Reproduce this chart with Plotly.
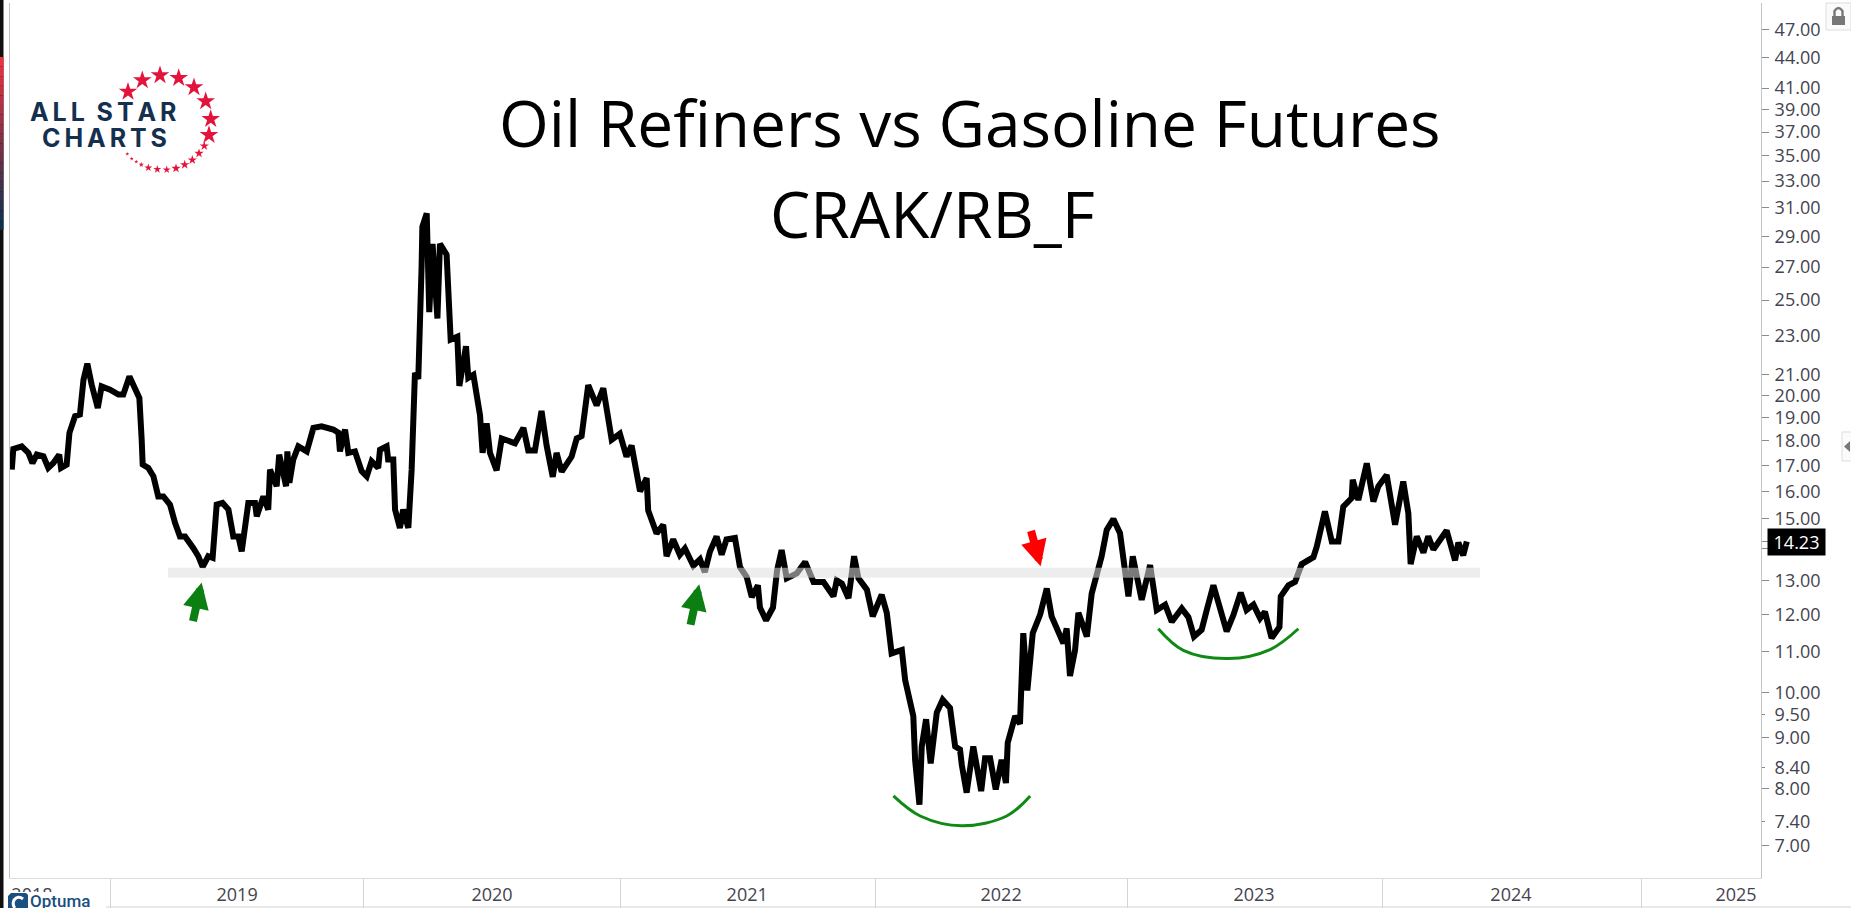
import math
import plotly.graph_objects as go

# ---------- series: CRAK/RB_F ratio (decimal year, ratio) ----------
years = [
 2018.615,2018.621,2018.654,2018.680,2018.696,2018.713,2018.739,2018.758,2018.778,2018.801,2018.808,2018.830,
 2018.841,2018.863,2018.882,2018.896,2018.911,2018.928,2018.952,2018.967,2019.000,2019.033,2019.052,2019.076,
 2019.091,2019.115,2019.124,2019.128,2019.150,2019.170,2019.189,2019.209,2019.235,2019.255,2019.274,2019.294,
 2019.326,2019.346,2019.363,2019.385,2019.402,2019.418,2019.441,2019.464,2019.483,2019.503,2019.516,2019.542,
 2019.568,2019.575,2019.601,2019.620,2019.627,2019.653,2019.663,2019.690,2019.695,2019.703,2019.718,2019.738,
 2019.771,2019.797,2019.829,2019.875,2019.895,2019.901,2019.921,2019.934,2019.960,2019.986,2020.006,2020.025,
 2020.051,2020.058,2020.084,2020.090,2020.110,2020.117,2020.136,2020.149,2020.169,2020.182,2020.195,2020.208,
 2020.221,2020.224,2020.241,2020.251,2020.264,2020.283,2020.293,2020.319,2020.335,2020.361,2020.369,2020.395,
 2020.404,2020.424,2020.450,2020.460,2020.476,2020.489,2020.515,2020.535,2020.587,2020.620,2020.639,2020.665,
 2020.691,2020.711,2020.735,2020.750,2020.770,2020.809,2020.829,2020.848,2020.874,2020.907,2020.933,2020.966,
 2020.998,2021.024,2021.044,2021.077,2021.103,2021.109,2021.142,2021.168,2021.181,2021.207,2021.233,2021.253,
 2021.286,2021.312,2021.331,2021.351,2021.377,2021.397,2021.416,2021.449,2021.469,2021.495,2021.515,2021.539,
 2021.547,2021.571,2021.598,2021.614,2021.632,2021.652,2021.691,2021.724,2021.757,2021.796,2021.835,2021.848,
 2021.868,2021.894,2021.916,2021.933,2021.966,2021.989,2022.024,2022.044,2022.063,2022.103,2022.116,2022.148,
 2022.155,2022.172,2022.181,2022.198,2022.216,2022.240,2022.263,2022.292,2022.312,2022.331,2022.338,2022.357,
 2022.383,2022.414,2022.429,2022.449,2022.471,2022.494,2022.511,2022.518,2022.547,2022.566,2022.579,2022.595,
 2022.616,2022.645,2022.671,2022.690,2022.736,2022.749,2022.762,2022.782,2022.795,2022.828,2022.847,2022.886,
 2022.906,2022.932,2022.958,2022.991,2023.008,2023.043,2023.076,2023.102,2023.135,2023.161,2023.200,2023.226,
 2023.248,2023.278,2023.298,2023.324,2023.344,2023.376,2023.402,2023.431,2023.454,2023.481,2023.507,2023.526,
 2023.552,2023.583,2023.588,2023.618,2023.644,2023.670,2023.716,2023.729,2023.761,2023.788,2023.814,2023.833,
 2023.866,2023.870,2023.892,2023.925,2023.951,2023.970,2024.003,2024.036,2024.068,2024.088,2024.097,2024.121,
 2024.147,2024.166,2024.186,2024.238,2024.271,2024.284,2024.303,2024.317]
ratio = [
 16.83,17.66,17.77,17.50,17.09,17.43,17.36,16.90,17.09,17.43,16.90,17.03,
 18.34,19.07,19.14,20.76,21.55,20.52,19.43,20.44,20.28,20.05,20.05,20.92,
 20.52,19.89,18.05,17.03,16.90,16.57,15.81,15.81,15.51,14.86,14.40,14.40,
 14.02,13.75,13.41,13.75,13.70,15.51,15.57,15.33,14.40,14.40,13.91,15.57,
 15.57,15.09,15.81,15.33,16.83,16.19,17.43,16.19,17.56,16.32,17.23,17.77,
 17.56,18.55,18.62,18.48,18.34,17.56,18.48,17.50,17.56,16.77,16.57,17.16,
 16.90,17.63,17.77,17.23,17.23,15.33,14.69,15.33,14.69,16.83,21.09,20.80,
 27.03,29.67,30.60,24.30,28.50,23.95,28.50,27.80,22.80,22.95,20.46,22.45,
 20.85,21.00,19.10,17.50,18.75,17.50,16.80,18.10,17.90,18.55,17.60,17.60,
 19.30,17.80,16.55,17.50,16.75,17.35,18.10,18.20,20.50,19.55,20.35,18.05,
 18.30,17.35,17.80,16.00,16.50,15.30,14.50,14.80,13.75,14.30,13.80,14.00,
 13.45,13.65,13.25,13.90,14.40,13.80,14.30,14.35,13.40,13.10,12.50,12.85,
 12.20,11.84,12.20,13.30,13.95,13.06,13.21,13.57,12.95,12.95,12.52,13.00,
 12.90,12.47,13.75,13.06,12.72,11.95,12.57,12.05,10.96,11.05,10.30,9.47,
 8.55,7.70,8.82,9.40,8.48,9.55,9.84,9.65,8.82,8.76,8.45,7.92,
 8.82,7.95,8.58,8.58,7.98,8.55,8.10,8.90,9.47,9.30,11.49,10.05,
 11.49,12.00,12.75,11.95,11.22,11.62,10.40,11.05,12.05,11.40,12.60,13.75,
 14.62,15.00,14.51,12.52,13.75,12.42,13.47,12.13,12.28,11.80,12.17,11.93,
 11.40,11.58,12.13,12.85,12.33,11.54,11.98,12.63,12.13,12.28,11.90,12.08,
 11.36,11.66,12.52,12.85,12.95,13.50,13.72,14.06,15.27,14.23,14.23,15.44,
 15.75,16.44,15.68,17.08,15.62,16.18,16.62,14.80,16.37,15.20,13.50,14.40,
 13.87,14.40,13.97,14.60,13.62,14.20,13.78,14.23]
last_value = 14.23

# ---------- support level and annotation curves ----------
support_x = [2019.227, 2024.369]
support_y = [13.23, 13.23]
arc1_x = [2022.070,2022.175,2022.338,2022.514,2022.606]
arc1_y = [7.86,7.50,7.33,7.50,7.86]
arc2_x = [2023.108,2023.206,2023.383,2023.546,2023.657]
arc2_y = [11.61,11.04,10.83,11.06,11.61]
# (tip year, tip value, tail dx, tail dy, colour)
arrows = [(2019.359,12.93,-9,40,"#0c7f12"),(2021.309,12.88,-9,42,"#0c7f12"),(2022.647,13.43,-10,-37,"#ff0000")]

# ---------- axes ----------
y_ticks = [47,44,41,39,37,35,33,31,29,27,25,23,21,20,19,18,17,16,15,14,13,12,11,10,9.5,9,8.4,8,7.4,7]
short_ticks = [9.5,8.4,7.4]
year_labels = ["2018","2019","2020","2021","2022","2023","2024","2025"]
year_label_pos = [2018.694,2019.498,2020.497,2021.497,2022.492,2023.483,2024.49,2025.372]
year_starts = [2019.0,2019.994,2020.999,2021.998,2022.986,2023.985,2025.0]

W, H = 1851, 908
L, R, T, B = 10, 1761, 3, 878
def px(x): return (x - L) / (R - L)
def py(y): return (B - y) / (B - T)

TXT = "#45434f"
FONT = "Open Sans"

# logo star layout (decoration): x, y, size in page pixels
star_x = [128,142.3,160,178.7,194,205.7,210.7,209,204.3,199,192.3,184.7,176,166.7,157.3,148.3,141.3,136.3,131.7,127.3]
star_y = [91.7,80.3,75.3,78,87.3,101.3,119,135,146,153.3,160,164.7,168.3,169.7,169.3,167.7,164.7,161.7,158.7,154]
star_s = [14,14,14,14,14,14,14,14,7,7,7,7,7,6,6,6,4,3,3,3]

fig = go.Figure()
fig.add_trace(go.Scatter(x=years, y=ratio, mode="lines", line=dict(color="#000000", width=6, simplify=False), hoverinfo="skip"))
fig.add_trace(go.Scatter(x=support_x, y=support_y, mode="lines", line=dict(color="rgba(222,222,222,0.55)", width=10), hoverinfo="skip"))
for ax_, ay_ in ((arc1_x, arc1_y), (arc2_x, arc2_y)):
    fig.add_trace(go.Scatter(x=ax_, y=ay_, mode="lines", line=dict(color="#0f8a14", width=3, shape="spline"), hoverinfo="skip"))
fig.add_trace(go.Scatter(x=star_x, y=star_y, xaxis="x2", yaxis="y2", mode="markers",
                         marker=dict(symbol="star", color="#e3143c", size=star_s, opacity=1, line=dict(width=0)), hoverinfo="skip"))

anns = []
for x_, y_, dx, dy, c in arrows:
    anns.append(dict(x=x_, y=math.log10(y_), xref="x", yref="y", ax=dx, ay=dy, axref="pixel", ayref="pixel",
                     text="", showarrow=True, arrowhead=2, arrowsize=0.65, arrowwidth=8, arrowcolor=c, standoff=0))
anns.append(dict(x=px(970), y=py(122), xref="paper", yref="paper", text="Oil Refiners vs Gasoline Futures", showarrow=False,
                 font=dict(family=FONT, size=64, color="#000000"), xanchor="center", yanchor="middle"))
anns.append(dict(x=px(932), y=py(214), xref="paper", yref="paper", text="CRAK/RB_F", showarrow=False,
                 font=dict(family=FONT, size=64, color="#000000"), xanchor="center", yanchor="middle"))
anns.append(dict(x=px(1796.5), y=math.log10(last_value), xref="paper", yref="y", text=f"{last_value:.2f}", showarrow=False,
                 width=57, height=26, bgcolor="#000000", font=dict(family=FONT, size=18, color="#ffffff"),
                 xanchor="center", yanchor="middle", borderpad=0))
hs = "\u200a\u200a"
anns.append(dict(x=px(103), y=py(112), xref="paper", yref="paper", text=hs.join("ALL STAR").replace(" ", "\u2009"), showarrow=False,
                 font=dict(family="Inter", size=25, color="#15304f", weight="bold"), xanchor="center", yanchor="middle"))
anns.append(dict(x=px(104), y=py(138), xref="paper", yref="paper", text=hs.join("CHARTS"), showarrow=False,
                 font=dict(family="Inter", size=25, color="#15304f", weight="bold"), xanchor="center", yanchor="middle"))
anns.append(dict(x=px(60), y=py(901), xref="paper", yref="paper", text="Optuma", showarrow=False,
                 font=dict(family="Roboto", size=17, color="#1b4f7f", weight=500), xanchor="center", yanchor="middle"))

def rect(x0, y0, x1, y1, fill, line=None, layer="above"):
    return dict(type="rect", xref="paper", yref="paper", x0=px(x0), x1=px(x1), y0=py(y0), y1=py(y1),
                fillcolor=fill, line=dict(width=1 if line else 0, color=line or fill), layer=layer)

shapes = [rect(0, 0, 3.5, 908, "#101010")]
top, bot = (240, 48, 64), (10, 50, 80)
for i in range(18):
    t = i / 17
    c = "rgb(%d,%d,%d)" % tuple(round(a + (b - a) * t) for a, b in zip(top, bot))
    shapes.append(rect(0, 57 + i * 9.6, 3.5, 57 + (i + 1) * 9.6, c))
shapes.append(rect(106, 906.5, 1851, 907.5, "#d4d4d4"))
shapes.append(rect(10, 892, 106, 908, "#ffffff"))
shapes.append(dict(type="path", xref="paper", yref="paper", layer="above", fillcolor="#1b4f7f", line=dict(width=0),
                   path=f"M {px(11)} {py(893)} L {px(26)} {py(893)} L {px(28)} {py(895)} L {px(28)} {py(908)} L {px(8)} {py(908)} L {px(8)} {py(896)} Z"))
shapes.append(dict(type="path", xref="paper", yref="paper", layer="above", line=dict(color="#ffffff", width=3),
                   path=f"M {px(23)} {py(899)} Q {px(18)} {py(895)} {px(14)} {py(900)} Q {px(12)} {py(905)} {px(15)} {py(908)}"))
shapes.append(rect(1826, 3, 1851, 30, "#fbfbfb", "#dddddd"))
shapes.append(rect(1832, 16, 1845, 25, "#777777"))
shapes.append(dict(type="path", xref="paper", yref="paper", layer="above", line=dict(color="#777777", width=2.4),
                   path=f"M {px(1834.5)} {py(16)} L {px(1834.5)} {py(11)} Q {px(1838.5)} {py(5)} {px(1842.5)} {py(11)} L {px(1842.5)} {py(16)}"))
shapes.append(rect(1842, 432, 1852, 461, "#fbfbfb", "#dddddd"))
shapes.append(dict(type="path", xref="paper", yref="paper", layer="above", fillcolor="#777777", line=dict(width=0),
                   path=f"M {px(1844)} {py(446.5)} L {px(1850)} {py(441)} L {px(1850)} {py(452)} Z"))

fig.update_layout(
    width=W, height=H, autosize=False, paper_bgcolor="#ffffff", plot_bgcolor="#ffffff", showlegend=False,
    margin=dict(l=L, r=W - R, t=T, b=H - B, pad=0), font=dict(family=FONT, size=18, color=TXT),
    annotations=anns, shapes=shapes,
    xaxis=dict(type="linear", range=[2018.608, 2025.470], tickmode="array", tickvals=year_label_pos, ticktext=year_labels,
               ticks="", showgrid=False, zeroline=False, showline=True, linecolor="#dcdcdc", linewidth=1,
               tickfont=dict(family=FONT, size=18, color=TXT),
               minor=dict(tickmode="array", tickvals=year_starts, ticks="outside", ticklen=29, tickcolor="#d4d4d4", tickwidth=1, showgrid=False)),
    yaxis=dict(type="log", side="right", range=[math.log10(6.49), math.log10(50.0)], tickmode="array",
               tickvals=y_ticks + [last_value], ticktext=[f"{v:.2f}" for v in y_ticks] + [""],
               ticks="outside", ticklen=3, tickcolor="#8a8a8a", tickwidth=1, ticklabelstandoff=6,
               showgrid=False, zeroline=False, showline=True, linecolor="#c4c4c4", linewidth=1, mirror=True,
               tickfont=dict(family=FONT, size=18, color=TXT),
               minor=dict(tickmode="array", tickvals=[v for v in y_ticks if v not in short_ticks] + [last_value],
                          ticks="outside", ticklen=7, tickcolor="#8a8a8a", tickwidth=1, showgrid=False)),
    xaxis2=dict(overlaying="x", range=[L, R], visible=False),
    yaxis2=dict(overlaying="y", range=[B, T], visible=False),
)
fig.write_html("out.html", config=dict(displayModeBar=False),
               post_script="document.body.style.margin='0';document.body.style.overflow='hidden';")
